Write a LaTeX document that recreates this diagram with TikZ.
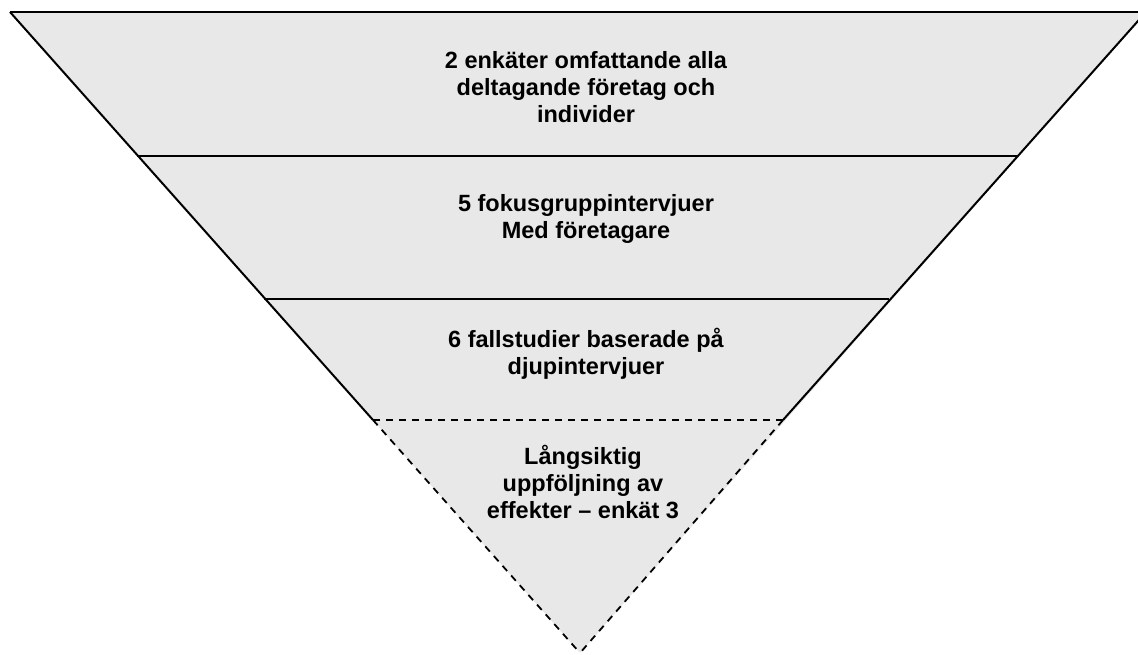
\documentclass[tikz,border=0pt]{standalone}
\usepackage{fontspec}
\setmainfont{Liberation Sans}
\definecolor{layerfill}{HTML}{E8E8E8}
\tikzset{
  edge/.style={draw=black,line width=2pt},
  dashedge/.style={draw=black,line width=1.8pt,dash pattern=on 7pt off 6pt},
  lbl/.style={font=\bfseries\fontsize{23.5}{26.8}\selectfont,align=center,inner sep=0pt,text=black}
}
\begin{document}
\begin{tikzpicture}[x=1pt,y=-1pt]
\useasboundingbox (0,0) rectangle (1138,655);
\begin{scope}
\clip (0,0) rectangle (1138,655);
\coordinate (tl) at (10,12);
\coordinate (tr) at (1146,12);
\coordinate (l1) at (137,156);
\coordinate (r1) at (1017,156);
\coordinate (l2) at (264,299);
\coordinate (r2) at (889,299);
\coordinate (l3) at (373,420);
\coordinate (r3) at (783,420);
\coordinate (apex) at (580,653);
\fill[layerfill] (tl) -- (tr) -- (apex) -- cycle;
\draw[edge] (tl) -- (tr);
\draw[edge] (l1) -- (r1);
\draw[edge] (l2) -- (r2);
\draw[edge] (tl) -- (l3);
\draw[edge] (tr) -- (r3);
\draw[dashedge] (l3) -- (r3);
\draw[dashedge] (l3) -- (apex);
\draw[dashedge] (r3) -- (apex);
\end{scope}
\node[lbl] (t1) at (586,87) {2 enkäter omfattande alla\\deltagande företag och\\individer};
\node[lbl] (t2) at (586,219) {5 fokusgruppintervjuer\\Med företagare};
\node[lbl] (t3) at (586,354) {6 fallstudier baserade på\\djupintervjuer};
\node[lbl] (t4) at (583,482) {Långsiktig\\uppföljning av\\effekter – enkät 3};
\end{tikzpicture}
\end{document}
